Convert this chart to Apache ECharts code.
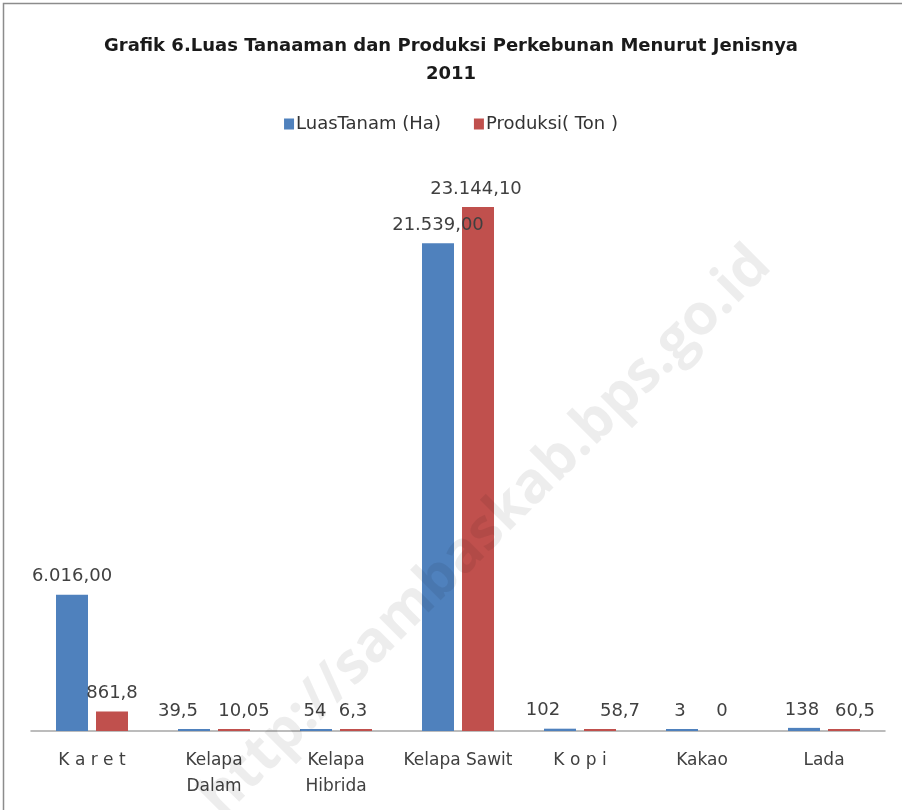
<!DOCTYPE html>
<html>
<head>
<meta charset="utf-8">
<script src="https://cdn.jsdelivr.net/npm/echarts@6/dist/echarts.min.js"></script>
<style>
  html, body { margin: 0; padding: 0; background: #fff; }
  #main { width: 902px; height: 810px; }
</style>
</head>
<body>
<div id="main"></div>
<script>
// data
const categories = ['K a r e t', 'Kelapa\nDalam', 'Kelapa\nHibrida', 'Kelapa Sawit', 'K o p i', 'Kakao', 'Lada']
const luasTanam = [6016, 39.5, 54, 21539, 102, 3, 138]
const produksi = [861.8, 10.05, 6.3, 23144.1, 58.7, 0, 60.5]
const luasLabels = ['6.016,00', '39,5', '54', '21.539,00', '102', '3', '138']
const produksiLabels = ['861,8', '10,05', '6,3', '23.144,10', '58,7', '0', '60,5']

// excel pushed crowded labels sideways a bit
const luasShift = [0, -16, -1, 0, -17, -2, -2]
const produksiShift = [0, 10, -3, -2, 20, 0, 11]

const chart = echarts.init(document.getElementById('main'), null, {renderer: 'canvas'})
const font = '"DejaVu Sans", sans-serif'

const labelStyle = {
  show: true,
  position: 'top',
  distance: 9,
  color: '#404040',
  fontFamily: font,
  fontSize: 18
}

const toItems = (values, shifts) => values.map((v, i) => {
  const item = {value: v, label: {offset: [shifts[i], 0]}}
  if (v === 0) item.itemStyle = {color: 'rgba(0,0,0,0)'}
  return item
})

const option = {
  backgroundColor: '#fff',
  animation: false,
  title: {
    text: 'Grafik 6.Luas Tanaaman dan Produksi Perkebunan Menurut Jenisnya\n2011',
    left: 'center',
    top: 27,
    padding: [5, 0, 5, 12],
    textStyle: {
      fontFamily: font,
      fontWeight: 'bold',
      fontSize: 18,
      lineHeight: 28,
      color: '#1a1a1a'
    }
  },
  legend: {
    top: 110,
    left: 'center',
    padding: [5, 0, 5, 10],
    itemWidth: 10,
    itemHeight: 11,
    itemGap: 33,
    icon: 'rect',
    textStyle: {fontFamily: font, fontSize: 18, color: '#333', padding: [0, 0, 0, -3]}
  },
  graphic: [
    {
      type: 'rect',
      silent: true,
      shape: {x: 3.5, y: 3.5, width: 920, height: 830},
      style: {fill: 'none', stroke: '#8c8c8c', lineWidth: 1.5}
    },
    {
      type: 'text',
      silent: true,
      z: 100,
      x: 486,
      y: 532,
      rotation: Math.PI / 4,
      style: {
        text: 'http://sambaskab.bps.go.id',
        fontFamily: '"Open Sans", sans-serif',
        fontWeight: 'bold',
        fontSize: 57,
        fill: 'rgba(0,0,0,0.07)',
        align: 'center',
        verticalAlign: 'middle'
      }
    }
  ],
  grid: {left: 31, right: 17, top: 165, bottom: 79, containLabel: false},
  xAxis: {
    type: 'category',
    data: categories,
    axisLine: {lineStyle: {color: '#a6a6a6', width: 1.5}},
    axisTick: {show: false},
    axisLabel: {
      interval: 0,
      margin: 17,
      fontFamily: font,
      fontSize: 17,
      lineHeight: 26,
      color: '#404040'
    }
  },
  yAxis: {
    type: 'value',
    min: 0,
    max: 25000,
    show: false,
    splitLine: {show: false}
  },
  series: [
    {
      name: 'LuasTanam (Ha)',
      type: 'bar',
      data: toItems(luasTanam, luasShift),
      barWidth: 32,
      barGap: '25%',
      barMinHeight: 2,
      itemStyle: {color: '#4f81bd'},
      label: {...labelStyle, formatter: p => luasLabels[p.dataIndex]}
    },
    {
      name: 'Produksi( Ton )',
      type: 'bar',
      data: toItems(produksi, produksiShift),
      barWidth: 32,
      barMinHeight: 2,
      itemStyle: {color: '#c0504d'},
      label: {...labelStyle, formatter: p => produksiLabels[p.dataIndex]}
    }
  ]
}

chart.setOption(option)
</script>
</body>
</html>
